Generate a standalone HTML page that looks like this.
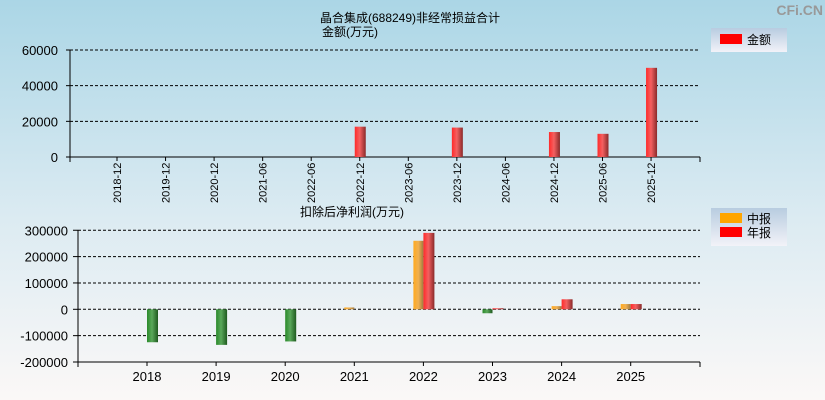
<!DOCTYPE html>
<html><head><meta charset="utf-8"><style>
body{margin:0;}
#wrap{width:825px;height:400px;position:relative;background:linear-gradient(#abd6e6 0%,#dcebf2 55%,#fbf8f7 100%);font-family:"Liberation Sans","Noto Sans CJK SC",sans-serif;overflow:hidden}
svg text{font-family:"Liberation Sans","Noto Sans CJK SC",sans-serif;}
</style></head><body>
<div id="wrap">
<svg id="s" width="825" height="400">
<defs>
<linearGradient id="gr" x1="0" x2="1"><stop offset="0" stop-color="#ff2a2a"/><stop offset="0.45" stop-color="#f46060"/><stop offset="1" stop-color="#8a2a2a"/></linearGradient>
<linearGradient id="go" x1="0" x2="1"><stop offset="0" stop-color="#ffaa20"/><stop offset="0.5" stop-color="#f0b050"/><stop offset="1" stop-color="#a07a40"/></linearGradient>
<linearGradient id="gg" x1="0" x2="1"><stop offset="0" stop-color="#2a8a2a"/><stop offset="0.45" stop-color="#5aa85a"/><stop offset="1" stop-color="#1f5a1f"/></linearGradient>
<linearGradient id="lg" x1="0" y1="0" x2="0" y2="1"><stop offset="0" stop-color="#b8cce0"/><stop offset="1" stop-color="#f2f2f8"/></linearGradient>
</defs>
<text x="823" y="15" text-anchor="end" font-size="14" fill="#999" font-weight="bold">CFi.CN</text>
<text x="410" y="22" text-anchor="middle" font-size="12">晶合集成(688249)非经常损益合计</text>
<text x="350" y="36" text-anchor="middle" font-size="12">金额(万元)</text>
<rect x="711" y="28" width="76" height="24" fill="url(#lg)"/>
<rect x="720" y="34" width="22" height="10" fill="#ff0000"/>
<text x="747" y="44" font-size="12">金额</text>
<text x="300" y="216" font-size="12">扣除后净利润(万元)</text>
<rect x="711" y="208" width="76" height="38" fill="url(#lg)"/>
<rect x="720" y="213" width="22" height="10" fill="#ffa500"/>
<text x="747" y="223" font-size="12">中报</text>
<rect x="720" y="227" width="22" height="10" fill="#ff0000"/>
<text x="747" y="237" font-size="12">年报</text>
<g id="top"></g><g id="bot"></g>
</svg></div>
<script>
const topCats=["2018-12","2019-12","2020-12","2021-06","2022-06","2022-12","2023-06","2023-12","2024-06","2024-12","2025-06","2025-12"];
const topVals=[0,0,0,0,0,17000,0,16500,0,14000,13000,50000];
const topTicks=[0,20000,40000,60000];
const botCats=["2018","2019","2020","2021","2022","2023","2024","2025"];
const midVals=[null,null,null,7000,260000,-15000,12000,20000];
const annVals=[-125000,-135000,-122000,null,290000,4000,38000,20000];
const botTicks=[-200000,-100000,0,100000,200000,300000];
const NS="http://www.w3.org/2000/svg";
function mk(p,t,a){const e=document.createElementNS(NS,t);for(const k in a)e.setAttribute(k,a[k]);p.appendChild(e);return e;}
const T=document.getElementById('top');
const ty=v=>157-(v/60000)*107, tx=i=>117+i*48.55;
topTicks.forEach(v=>{const y=ty(v);
 if(v>0){const l=mk(T,'line',{x1:70,x2:700,y1:y,y2:y,stroke:'#000','stroke-dasharray':'3,2'});}
 const tk=mk(T,'line',{x1:66,x2:70,y1:y,y2:y,stroke:'#000'});
 const t=mk(T,'text',{x:58,y:y+5,'text-anchor':'end','font-size':13});t.textContent=v;});
let a=mk(T,'line',{x1:70,x2:70,y1:50,y2:157,stroke:'#000'});
a=mk(T,'line',{x1:70,x2:700,y1:157,y2:157,stroke:'#000'});
[70,700].forEach(x=>{const l=mk(T,'line',{x1:x,x2:x,y1:157,y2:162,stroke:'#000'});});
topCats.forEach((c,i)=>{const x=tx(i);
 const l=mk(T,'line',{x1:x,x2:x,y1:157,y2:161,stroke:'#000'});
 const t=mk(T,'text',{x:x+4,y:203,'font-size':11,transform:`rotate(-90 ${x+4} 203)`});t.textContent=c;
 const v=topVals[i];if(v){const b=mk(T,'rect',{x:x-5,y:ty(v),width:11,height:157-ty(v),fill:'url(#gr)'});}});
const B=document.getElementById('bot');
const by=v=>309.3-v/100000*26.35, bx=i=>147+i*69.1;
botTicks.forEach(v=>{const y=by(v);
 if(v>-200000){const l=mk(B,'line',{x1:78,x2:700,y1:y,y2:y,stroke:'#000','stroke-dasharray':'3,2'});}
 const tk=mk(B,'line',{x1:73,x2:78,y1:y,y2:y,stroke:'#000'});
 const t=mk(B,'text',{x:68,y:y+5,'text-anchor':'end','font-size':13});t.textContent=v;});
a=mk(B,'line',{x1:78,x2:78,y1:230,y2:362,stroke:'#000'});
a=mk(B,'line',{x1:78,x2:700,y1:362,y2:362,stroke:'#000'});
[78,700].forEach(x=>{const l=mk(B,'line',{x1:x,x2:x,y1:362,y2:367,stroke:'#000'});});
function bar(x,w,v,fill,name){const y0=by(0),y=by(v);const b=mk(B,'rect',{x:x,y:Math.min(y,y0),width:w,height:Math.max(1,Math.abs(y-y0)),fill:v<0?'url(#gg)':fill});}
botCats.forEach((c,i)=>{const x=bx(i);
 const l=mk(B,'line',{x1:x,x2:x,y1:362,y2:366,stroke:'#000'});
 const t=mk(B,'text',{x:x,y:381,'text-anchor':'middle','font-size':13});t.textContent=c;
 if(midVals[i]!==null)bar(x-10,10,midVals[i],'url(#go)','bar-mid-'+c);
 if(annVals[i]!==null)bar(x,11,annVals[i],'url(#gr)','bar-annual-'+c);});
</script>
</body></html>
